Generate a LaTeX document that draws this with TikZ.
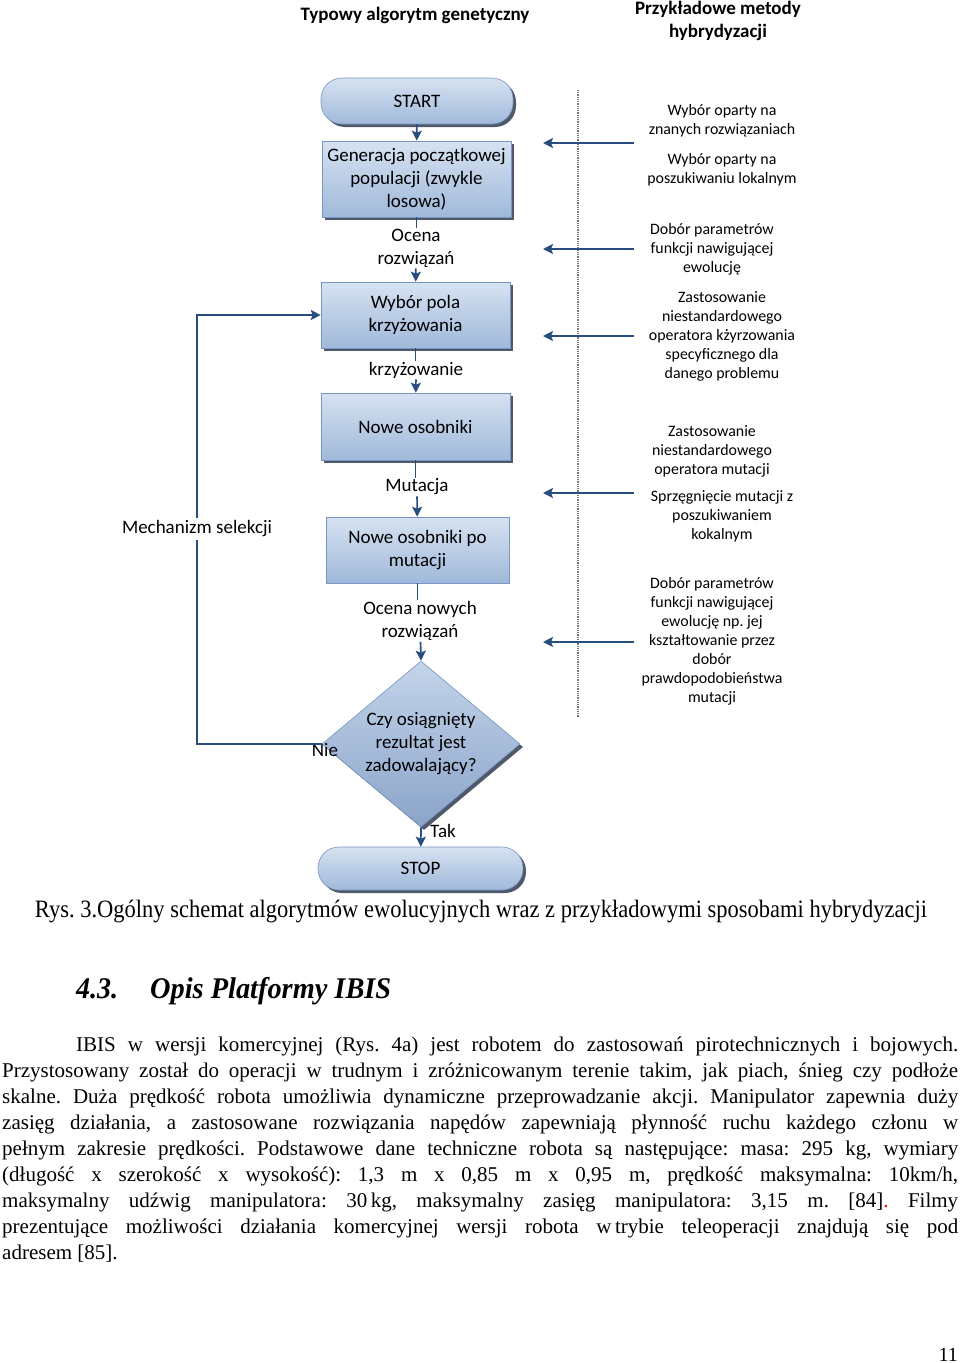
\documentclass[tikz,border=0pt]{standalone}
\usepackage{fontspec}
\setmainfont{Liberation Serif}
\newfontfamily\diafont{Carlito}
\usepackage{graphicx}
\usetikzlibrary{shapes.geometric,shadows,arrows.meta}
\definecolor{ln}{RGB}{40,78,128}
\definecolor{bxt}{RGB}{214,226,241}
\definecolor{bxbot}{RGB}{160,185,218}
\definecolor{bxb}{RGB}{120,150,195}
\definecolor{dit}{RGB}{196,212,234}
\definecolor{dib}{RGB}{138,164,201}
\definecolor{shd}{RGB}{60,72,90}
\definecolor{dtc}{RGB}{120,120,120}
\newsavebox\jlbox
\newcommand\jline[2]{\sbox\jlbox{#2}\ifdim\wd\jlbox>#1\relax\resizebox{#1}{\height}{\usebox\jlbox}\else\makebox[#1][s]{#2}\fi}
\frenchspacing
\begin{document}
\begin{tikzpicture}[x=1pt,y=-1pt,
  conn/.style={draw=ln, line width=1.7pt},
  arr/.style={conn, -{Stealth[length=10pt,width=10pt,inset=2pt]}},
  mainf/.style={font=\diafont\fontsize{19}{23}\selectfont},
  smallf/.style={font=\diafont\fontsize{15.9}{19}\selectfont},
  shdw/.style={drop shadow={shadow xshift=3pt, shadow yshift=-3pt, fill=shd, opacity=0.9}},
  box/.style={mainf, draw=bxb, line width=0.6pt, top color=bxt, bottom color=bxbot, align=center, inner sep=2pt},
  term/.style={box, rounded corners=21pt},
  lab/.style={mainf, align=center, inner sep=1pt},
  rtxt/.style={smallf, align=center, inner sep=0pt},
  bodyf/.style={font=\fontsize{21}{26}\selectfont, inner sep=0pt},
  titf/.style={font=\diafont\bfseries\fontsize{19}{23}\selectfont, align=center},
]
\fill[white] (0,0) rectangle (960,1363);
\useasboundingbox (0,0) rectangle (960,1363);

% titles
\node[titf] (t1) at (415,15) {Typowy algorytm genetyczny};
\node[titf] (t2) at (718,21) {Przykładowe metody\\hybrydyzacji};

% flowchart nodes
\node[term, shdw, minimum width=192pt, minimum height=46pt] (start) at (417,101) {START};
\node[box, shdw, minimum width=189pt, minimum height=76pt] (gen) at (416.5,179) {Generacja początkowej\\populacji (zwykle\\losowa)};
\node[lab] (ocena) at (416,248) {Ocena\\rozwiązań};
\node[box, shdw, minimum width=189pt, minimum height=66pt] (wyb) at (415.5,315) {Wybór pola\\krzyżowania};
\node[lab] (krz) at (416,370) {krzyżowanie};
\node[box, shdw, minimum width=189pt, minimum height=67pt] (nowe) at (415.5,426.5) {Nowe osobniki};
\node[lab] (mut) at (417,487) {Mutacja};
\node[box, minimum width=183pt, minimum height=66pt] (nowem) at (417.5,550) {Nowe osobniki po\\mutacji};
\node[lab] (ocn) at (420,621) {Ocena nowych\\rozwiązań};
\node[diamond, shdw, draw=bxb, line width=0.6pt, top color=dit, bottom color=dib, inner sep=0pt, minimum width=198pt, minimum height=166pt] (dia) at (421,744) {};
\node[lab] (diatxt) at (dia.center) {Czy osiągnięty\\rezultat jest\\zadowalający?};
\node[term, shdw, minimum width=205pt, minimum height=43pt] (stop) at (420.5,868.5) {STOP};
\node[lab] (nie) at (325,750) {Nie};
\node[lab] (tak) at (443,831) {Tak};
\node[lab, fill=white, inner sep=3pt] (sel) at (197,529) {Mechanizm selekcji};

% flowchart connectors
\draw[arr] (start) -- (gen);
\draw[conn] (gen.south) -- (gen.south |- ocena.north);
\draw[arr] (ocena) -- (wyb);
\draw[conn] (wyb.south) -- (wyb.south |- krz.north);
\draw[arr] (krz) -- (nowe);
\draw[conn] (nowe.south) -- (nowe.south |- mut.north);
\draw[arr] (mut) -- (nowem);
\draw[conn] (nowem.south) -- (nowem.south |- ocn.north);
\draw[arr] (ocn) -- (dia.north);
\draw[arr] (dia.south) -- (stop);
\draw[conn] (dia.west) -| (sel.south);
\draw[arr] (sel.north) |- (wyb.west);

% dotted separator
\coordinate (d1) at (578,90);
\coordinate (d2) at (578,718);
\draw[dtc, line width=1.2pt, dash pattern=on 0.9pt off 0.9pt] (d1) -- (d2);

% right side texts
\node[rtxt] (r1) at (722,121) {Wybór oparty na\\znanych rozwiązaniach};
\node[rtxt] (r2) at (722,170) {Wybór oparty na\\poszukiwaniu lokalnym};
\node[rtxt] (r3) at (712,249) {Dobór parametrów\\funkcji nawigującej\\ewolucję};
\node[rtxt] (r4) at (722,336) {Zastosowanie\\niestandardowego\\operatora kżyrzowania\\specyficznego dla\\danego problemu};
\node[rtxt] (r5) at (712,451) {Zastosowanie\\niestandardowego\\operatora mutacji};
\node[rtxt] (r6) at (722,516) {Sprzęgnięcie mutacji z\\poszukiwaniem\\kokalnym};
\node[rtxt] (r7) at (712,641) {Dobór parametrów\\funkcji nawigującej\\ewolucję np. jej\\kształtowanie przez\\dobór\\prawdopodobieństwa\\mutacji};

% right side arrows
\foreach \i/\yy in {1/143,2/249,3/336,4/493,5/642}{
  \coordinate (as\i) at (634,\yy);
  \coordinate (ae\i) at (543,\yy);
  \draw[arr] (as\i) -- (ae\i);
}

% caption
\node[anchor=base, inner sep=0pt, font=\fontsize{25}{30}\selectfont] (cap) at (481,917) {\resizebox{892pt}{\height}{Rys. 3.Ogólny schemat algorytmów ewolucyjnych wraz z przykładowymi sposobami hybrydyzacji}};

% heading
\node[anchor=base west, inner sep=0pt, font=\fontsize{30}{34}\selectfont\bfseries\itshape] (h1) at (76,998) {\resizebox{42pt}{\height}{4.3.}};
\node[anchor=base west, inner sep=0pt, font=\fontsize{30}{34}\selectfont\bfseries\itshape] (h2) at (150,998) {\resizebox{241pt}{\height}{Opis Platformy IBIS}};

% body text
\node[bodyf, anchor=base west] (l1) at (76,1051) {\jline{882pt}{IBIS w wersji komercyjnej (Rys. 4a) jest robotem do zastosowań pirotechnicznych i bojowych.}};
\node[bodyf, anchor=base west] (l2) at (2,1077) {\jline{956pt}{Przystosowany został do operacji w trudnym i zróżnicowanym terenie takim, jak piach, śnieg czy podłoże}};
\node[bodyf, anchor=base west] (l3) at (2,1103) {\jline{956pt}{skalne. Duża prędkość robota umożliwia dynamiczne przeprowadzanie akcji. Manipulator zapewnia duży}};
\node[bodyf, anchor=base west] (l4) at (2,1129) {\jline{956pt}{zasięg działania, a zastosowane rozwiązania napędów zapewniają płynność ruchu każdego członu w}};
\node[bodyf, anchor=base west] (l5) at (2,1155) {\jline{956pt}{pełnym zakresie prędkości. Podstawowe dane techniczne robota są następujące: masa: 295 kg, wymiary}};
\node[bodyf, anchor=base west] (l6) at (2,1181) {\jline{956pt}{(długość x szerokość x wysokość): 1,3 m x 0,85 m x 0,95 m, prędkość maksymalna: 10km/h,}};
\node[bodyf, anchor=base west] (l7) at (2,1207) {\jline{956pt}{maksymalny udźwig manipulatora: 30\,kg, maksymalny zasięg manipulatora: 3,15 m. [84]{\color{red}.} Filmy}};
\node[bodyf, anchor=base west] (l8) at (2,1233) {\jline{956pt}{prezentujące możliwości działania komercyjnej wersji robota w\,trybie teleoperacji znajdują się pod}};
\node[bodyf, anchor=base west] (l9) at (2,1259) {adresem [85].};

% page number
\node[anchor=base east, inner sep=0pt, font=\fontsize{20}{24}\selectfont] (pg) at (958,1361) {11};
\end{tikzpicture}
\end{document}
